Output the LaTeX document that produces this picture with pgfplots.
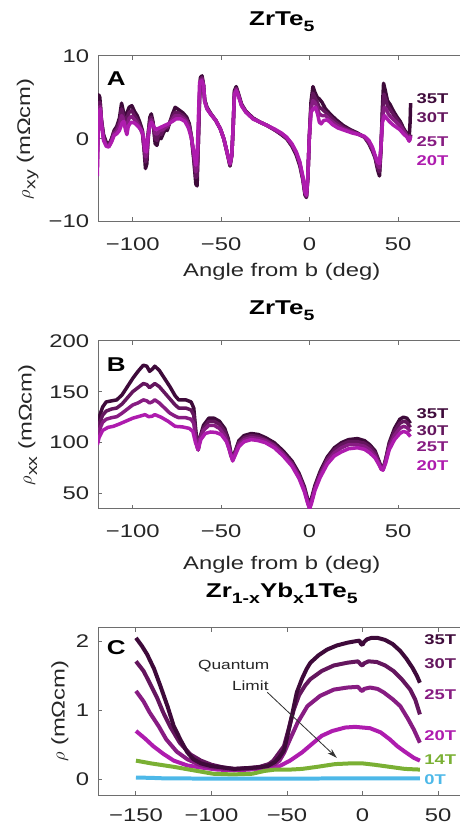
\documentclass[border=0pt]{standalone}
\usepackage{fontspec}
\setmainfont{Liberation Sans}[FakeStretch=1.3]
\usepackage{pgfplots}
\pgfplotsset{compat=1.18}
\usetikzlibrary{arrows.meta}

\definecolor{axgray}{RGB}{110,110,110}
\definecolor{txtgray}{RGB}{38,38,38}
\definecolor{c35}{RGB}{62,10,58}
\definecolor{c30}{RGB}{100,22,94}
\definecolor{c25}{RGB}{135,28,130}
\definecolor{c20}{RGB}{174,28,174}
\definecolor{c14}{RGB}{122,176,52}
\definecolor{c0}{RGB}{77,184,232}

\newcommand{\sub}[1]{\raisebox{-0.55ex}{\fontsize{9}{9}\selectfont #1}}
\newcommand{\tl}[1]{\textrm{#1}}

\tikzset{
  lab/.style={anchor=west, font=\bfseries\fontsize{8.5}{9}\selectfont, text=#1, inner sep=0pt},
  letter/.style={anchor=west, font=\bfseries\fontsize{12}{12}\selectfont, inner sep=0pt},
}
\pgfplotsset{
  panel/.style={
    scale only axis, width=217pt,
    axis x line*=box, axis y line*=left,
    axis line style={draw=axgray, line width=0.6pt, -},
    tick style={draw=axgray, line width=0.6pt},
    major tick length=2.5pt,
    tick align=inside,
    /pgf/number format/assume math mode=true,
    ticklabel style={font=\fontsize{11}{13}\selectfont, text=txtgray},
    xticklabel style={yshift=-6pt},
    yticklabel style={xshift=-2pt},
    label style={font=\fontsize{11}{13}\selectfont, text=txtgray},
    title style={font=\bfseries\fontsize{12}{14}\selectfont, text=black,
                 anchor=base, at={(axis description cs:0.508,1)}},
    xlabel style={anchor=base, at={(axis description cs:0.508,0)}},
    clip mode=individual,
  },
  s/.style={line width=2.1pt, color=#1, line join=round, mark=none},
}

\begin{document}
\begin{tikzpicture}
\path (0pt,0pt) rectangle (276pt,-496.2pt);

% ---------------- A ----------------
\begin{axis}[panel, at={(58.98pt,-33.6pt)}, anchor=north west, height=99.42pt,
  xmin=-119.5, xmax=84.8, ymin=-10, ymax=10,
  xtick={-100,-50,0,50}, xticklabels={\tl{−100},\tl{−50},\tl{0},\tl{50}},
  ytick={-10,0,10}, yticklabels={\tl{−10},\tl{0},\tl{10}},
  title={ZrTe\sub{5}},
  title style={yshift=12pt},
  xlabel={Angle from b (deg)},
  xlabel style={yshift=-33pt},
  ylabel={$\rho$\sub{xy} (mΩcm)},
  ylabel style={at={(axis description cs:-0.195,0.5)}, anchor=center},
]
\addplot[s=c35] coordinates {
(-120,-1.0) (-119.7,2.5) (-119.2,5.3) (-118.6,5.0) (-117.8,2.5) (-116.5,0.5) (-115,-0.4) (-113.5,-0.7) (-112,0.0) (-110.5,1.0) (-109,1.5) (-107.5,2.5) (-106.3,4.3) (-105.5,3.5) (-104.6,2.6) (-103.5,3.0) (-102,3.8) (-100.5,4.0) (-99,3.3) (-97.5,2.8) (-96,2.0) (-94.5,1.0) (-93.5,-1.5) (-92.8,-3.6) (-92,-3.0) (-91.3,0.5) (-90.3,2.6) (-89.5,3.0) (-88.5,2.0) (-87.3,-0.6) (-86.3,-0.8) (-85,0.5) (-84,0.0) (-82.8,0.6) (-81.5,1.2) (-80.5,1.0) (-79,2.0) (-77.5,3.0) (-76,3.8) (-74,3.5) (-71.5,3.1) (-69.5,2.6) (-68,1.8) (-66.8,0.2) (-65.5,-2.5) (-64.3,-5.5) (-63.6,-5.7) (-63,-1.0) (-62.3,5.0) (-61.7,7.4) (-60.8,7.6) (-60,6.5) (-59.3,4.7) (-58,3.8) (-56,3.1) (-53,2.2) (-50.5,1.2) (-48.5,0.0) (-46.5,-1.8) (-45,-3.3) (-44,-2.0) (-43.2,1.5) (-42.5,5.8) (-41.5,6.3) (-40.3,5.5) (-38.5,4.2) (-36,3.3) (-32,2.5) (-28,2.0) (-24,1.6) (-20,1.1) (-16,0.5) (-13,0.0) (-10,-0.9) (-7.5,-2.0) (-5.5,-3.3) (-3.8,-5.0) (-2.6,-6.8) (-1.8,-7.1) (-1,-4.8) (-0.2,0.0) (0.8,4.5) (1.9,6.3) (3,5.6) (4.3,5.0) (5.5,4.8) (7,4.4) (9,3.6) (12,2.9) (15,2.3) (19,1.6) (23,1.1) (27,0.7) (31,0.2) (33.5,-0.6) (35.5,-1.5) (37,-2.3) (38.5,-3.8) (39.5,-4.5) (40.3,-1.5) (41.2,4.0) (41.8,6.7) (42.8,5.8) (44,4.6) (45.6,4.1) (47.5,3.3) (49.5,2.6) (51.2,2.1) (53,1.3) (55,0.6) (56.3,0.2) (56.8,2.0) (57.1,4.3)
};
\addplot[s=c30] coordinates {
(-120,-2.5) (-119.6,2.0) (-119,4.4) (-118.4,4.4) (-117.6,2.0) (-116.5,0.3) (-115,-0.6) (-113.5,-0.8) (-112,-0.1) (-110.5,0.8) (-109,1.2) (-107.5,2.0) (-106.3,3.6) (-105.5,3.0) (-104.5,2.0) (-103.5,2.4) (-102,3.2) (-100.5,3.4) (-99,2.8) (-97.5,2.3) (-96,1.6) (-94.5,0.8) (-93.5,-1.2) (-92.8,-2.8) (-92,-2.3) (-91.3,0.5) (-90.3,2.3) (-89.5,2.6) (-88.5,1.8) (-87.3,0.0) (-86.3,-0.2) (-85,0.8) (-84,0.5) (-82.8,1.0) (-81.5,1.4) (-80.5,1.3) (-79,2.0) (-77.5,2.7) (-76,3.2) (-74,3.1) (-71.5,2.8) (-69.5,2.3) (-68,1.6) (-66.8,0.2) (-65.5,-2.2) (-64.3,-4.7) (-63.6,-4.5) (-63,-1.0) (-62.3,4.5) (-61.7,7.2) (-60.8,7.4) (-60,6.5) (-59.3,4.6) (-58,3.7) (-56,3.0) (-53,2.2) (-50.5,1.2) (-48.5,0.0) (-46.5,-1.8) (-45,-3.2) (-44,-2.0) (-43.2,1.5) (-42.5,5.6) (-41.5,6.1) (-40.3,5.4) (-38.5,4.1) (-36,3.3) (-32,2.5) (-28,2.0) (-24,1.6) (-20,1.1) (-16,0.6) (-13,0.1) (-10,-0.8) (-7.5,-1.8) (-5.5,-3.1) (-3.8,-4.8) (-2.6,-6.6) (-1.8,-7.0) (-1,-4.7) (-0.2,0.0) (0.8,4.0) (1.9,5.5) (3,5.0) (4.3,4.4) (5.5,3.8) (7,3.6) (9,3.2) (12,2.6) (15,2.0) (19,1.4) (23,1.0) (27,0.6) (31,0.2) (33.5,-0.5) (35.5,-1.3) (37,-2.2) (38.5,-3.5) (39.5,-4.0) (40.3,-1.3) (41.2,3.2) (42,5.4) (43,4.8) (44,4.0) (45.6,3.5) (47.5,2.9) (49.5,2.3) (51.2,1.8) (53,1.1) (55,0.4) (56.5,-0.2) (57.2,0.5)
};
\addplot[s=c25] coordinates {
(-120,-3.5) (-119.6,1.2) (-119,3.7) (-118.4,3.9) (-117.6,1.8) (-116.5,0.0) (-115,-0.8) (-113.5,-0.9) (-112,-0.3) (-110.5,0.6) (-109,0.9) (-107.5,1.5) (-106.3,2.8) (-105.5,2.5) (-104.3,1.4) (-103.5,1.5) (-102,2.5) (-100.5,2.7) (-99,2.3) (-97.5,1.9) (-96,1.3) (-94.5,0.6) (-93.5,-1.2) (-92.6,-2.2) (-91.8,-1.2) (-91,0.5) (-90.3,1.8) (-89.5,2.3) (-88.5,1.7) (-87.3,0.6) (-86,0.6) (-85,1.0) (-83,1.1) (-81.5,1.4) (-80,1.6) (-78,2.2) (-76,2.8) (-74,2.8) (-71.5,2.5) (-69.5,2.1) (-68,1.4) (-66.8,0.2) (-65.5,-1.8) (-64.3,-4.0) (-63.6,-3.5) (-63,-1.0) (-62.3,4.0) (-61.7,7.0) (-60.8,7.2) (-60,6.5) (-59.3,4.5) (-58,3.6) (-56,3.0) (-53,2.2) (-50.5,1.2) (-48.5,0.0) (-46.5,-1.8) (-45,-3.1) (-44,-2.0) (-43.2,1.5) (-42.5,5.4) (-41.5,6.0) (-40.3,5.3) (-38.5,4.0) (-36,3.2) (-32,2.4) (-28,2.0) (-24,1.6) (-20,1.1) (-16,0.6) (-13,0.1) (-10,-0.7) (-7.5,-1.7) (-5.5,-3.0) (-3.8,-4.7) (-2.6,-6.5) (-1.8,-6.9) (-1,-4.6) (-0.2,0.0) (0.8,3.6) (1.9,4.6) (3,4.4) (4.3,3.8) (5.5,3.0) (7,2.8) (9,2.8) (12,2.2) (15,1.7) (19,1.2) (23,0.9) (27,0.6) (31,0.2) (33.5,-0.4) (35.5,-1.2) (37,-2.1) (38.5,-3.2) (39.5,-3.5) (40.3,-1.2) (41.2,2.6) (42.2,3.8) (43.3,3.6) (44.5,3.0) (46,2.6) (48,2.2) (50,1.8) (52,1.3) (54,0.7) (55.8,0.1) (57.2,0.4)
};
\addplot[s=c20] coordinates {
(-120,-4.5) (-119.6,0.5) (-119,3.0) (-118.3,3.6) (-117.5,1.5) (-116.5,-0.2) (-115,-0.9) (-113.5,-1.0) (-112,-0.4) (-110.5,0.4) (-109,0.6) (-107.5,1.0) (-106,1.9) (-105,2.1) (-104,1.0) (-103.3,0.5) (-102.5,1.5) (-101,2.0) (-99,1.9) (-97,1.5) (-95,1.0) (-93.8,0.2) (-93,-1.4) (-92.3,-1.6) (-91.5,0.0) (-90.5,1.4) (-89.5,2.0) (-88.5,1.6) (-87,1.1) (-85,1.3) (-83,1.5) (-80,1.8) (-77.5,2.1) (-75.5,2.4) (-73,2.4) (-70.5,2.1) (-68.5,1.3) (-67,0.2) (-65.5,-1.5) (-64.3,-3.2) (-63.5,-1.5) (-62.8,3.0) (-62.2,6.8) (-61,7.0) (-60,6.5) (-59.3,4.5) (-58,3.6) (-56,3.0) (-53,2.2) (-50.5,1.2) (-48.5,0.0) (-46.5,-1.8) (-45,-3.0) (-44,-2.0) (-43.2,1.5) (-42.5,5.3) (-41.5,5.8) (-40.3,5.2) (-38.5,4.0) (-36,3.2) (-32,2.4) (-28,2.0) (-24,1.6) (-20,1.2) (-16,0.7) (-13,0.2) (-10,-0.6) (-7.5,-1.6) (-5.5,-2.8) (-3.8,-4.6) (-2.6,-6.4) (-1.8,-6.8) (-1,-4.5) (-0.2,0.0) (0.8,3.2) (2,3.6) (3.3,3.8) (4.5,3.0) (5.5,2.0) (6.5,1.8) (8,2.2) (10,2.3) (13,1.7) (16,1.3) (20,1.0) (24,0.7) (28,0.5) (31,0.3) (33.5,-0.2) (35.5,-1.0) (37,-2.0) (38.5,-2.8) (39.5,-3.0) (40.3,-1.0) (41.2,2.0) (42.3,2.8) (43.5,2.5) (45,2.1) (47,1.7) (49,1.4) (51,1.1) (53,0.6) (55,0.2) (56.3,-0.3) (57.2,0.3)
};
\node[letter] at (axis description cs:0.023,0.865) {A};
\node[lab=c35] at (axis cs:60.3,4.9) {35T};
\node[lab=c30] at (axis cs:60.3,2.5) {30T};
\node[lab=c25] at (axis cs:60.3,-0.3) {25T};
\node[lab=c20] at (axis cs:60.3,-2.7) {20T};
\end{axis}

% ---------------- B ----------------
\begin{axis}[panel, at={(58.98pt,-204.6pt)}, anchor=north west, height=100.98pt,
  xmin=-119.5, xmax=84.8, ymin=35, ymax=200,
  xtick={-100,-50,0,50}, xticklabels={\tl{−100},\tl{−50},\tl{0},\tl{50}},
  ytick={50,100,150,200}, yticklabels={\tl{50},\tl{100},\tl{150},\tl{200}},
  title={ZrTe\sub{5}},
  title style={yshift=9.6pt},
  xlabel={Angle from b (deg)},
  xlabel style={yshift=-36.6pt},
  ylabel={$\rho$\sub{xx} (mΩcm)},
  ylabel style={at={(axis description cs:-0.195,0.5)}, anchor=center},
]
\addplot[s=c35] coordinates {
(-120,117) (-119,125) (-117,135) (-115,140) (-112,141) (-109,142) (-106,147) (-103,155) (-100,163) (-97,170) (-94,176) (-92,175) (-90.5,170) (-89,172) (-87.5,175) (-85,171) (-82,163) (-79,155) (-76,146) (-74,142) (-70,142) (-67,140) (-65.5,134) (-64.5,115) (-63.5,98) (-63,93) (-62,105) (-60,117) (-57,124) (-54,124) (-51,121) (-48,114) (-46,104) (-44.5,90) (-43.5,85) (-42,92) (-40,102) (-37,107) (-33,109) (-29,108) (-25,105) (-20,100) (-15,92) (-10,82) (-6,70) (-3,57) (-1,44) (0,39) (1,45) (3,58) (6,72) (10,86) (14,95) (18,100) (22,103) (27,104) (31,102) (34,98) (37,92) (39,83) (40.5,76) (41.5,74) (43,84) (45,100) (48,114) (51,123) (53,125) (55,124) (57,119)
};
\addplot[s=c30] coordinates {
(-120,112) (-119,118) (-117,127) (-115,131) (-112,133) (-109,134) (-106,138) (-103,144) (-100,150) (-97,154) (-94,158) (-92,157) (-90.5,154) (-89,156) (-87.5,158) (-85,155) (-82,149) (-79,143) (-76,137) (-74,134) (-70,134) (-67,132) (-65.5,127) (-64.5,110) (-63.5,97) (-63,93) (-62,104) (-60,114) (-57,121) (-54,121) (-51,118) (-48,111) (-46,102) (-44.5,89) (-43.5,84) (-42,91) (-40,100) (-37,105) (-33,107) (-29,106) (-25,103) (-20,98) (-15,90) (-10,80) (-6,68) (-3,55) (-1,42) (0,37) (1,43) (3,56) (6,70) (10,84) (14,93) (18,98) (22,101) (27,101) (31,99.5) (34,96) (37,90) (39,82) (40.5,75) (41.5,74) (43,83) (45,98) (48,111) (51,119) (53,121) (55,120) (57,115)
};
\addplot[s=c25] coordinates {
(-120,106) (-119,112) (-117,120) (-115,123) (-112,124.5) (-109,125.5) (-106,129) (-103,133) (-100,137) (-97,139) (-94,142) (-92,141) (-90.5,139) (-89,140) (-87.5,142) (-85,139) (-82,134) (-79,129) (-76,126) (-74,124.5) (-70,124.5) (-67,123) (-65.5,119) (-64.5,105) (-63.5,95) (-63,93) (-62,104) (-60,112) (-57,117) (-54,117) (-51,114) (-48,107) (-46,97) (-44.5,87) (-43.5,83) (-42,90) (-40,98) (-37,103) (-33,105) (-29,104) (-25,102) (-20,97) (-15,89) (-10,79) (-6,67) (-3,54) (-1,41) (0,36) (1,42) (3,55) (6,68) (10,82) (14,90) (18,95) (22,98) (27,98) (31,96.5) (34,93) (37,87) (39,80) (40.5,74) (41.5,73.5) (43,82) (45,96) (48,107) (51,114) (53,116) (55,115) (57,111)
};
\addplot[s=c20] coordinates {
(-120,98) (-119,105) (-117,112) (-114,115) (-111,116) (-108,118) (-104,121) (-100,124) (-96,126) (-93,127.5) (-91,125.5) (-89,126) (-87.5,127.5) (-84,125) (-80,121) (-76,116) (-72,115.5) (-68,114) (-66,111) (-64.5,100) (-63,93) (-61.5,103) (-59,109) (-56,110.5) (-53,110) (-50,108) (-47,101) (-45,91) (-43.5,82) (-42,88) (-40,96) (-37,101) (-33,103) (-29,102) (-25,100) (-20,95) (-15,87) (-10,77) (-6,65) (-3,52) (-1,40) (0,35) (1,40) (3,53) (6,66) (10,79) (14,87) (18,91) (22,94) (27,95) (31,93.5) (34,90) (37,85) (39,79) (40.5,74) (41.5,73) (43,80) (45,93) (48,103) (51,109) (53,111) (55,110) (57,106)
};
\node[letter] at (axis description cs:0.023,0.857) {B};
\node[lab=c35] at (axis cs:60.3,128.4) {35T};
\node[lab=c30] at (axis cs:60.3,112) {30T};
\node[lab=c25] at (axis cs:60.3,95.8) {25T};
\node[lab=c20] at (axis cs:60.3,77.5) {20T};
\end{axis}

% ---------------- C ----------------
\begin{axis}[panel, at={(58.98pt,-376.8pt)}, anchor=north west, height=100.62pt,
  xmin=-175, xmax=64.3, ymin=-0.23, ymax=2.2,
  xtick={-150,-100,-50,0,50}, xticklabels={\tl{−150},\tl{−100},\tl{−50},\tl{0},\tl{50}},
  ytick={0,1,2}, yticklabels={\tl{0},\tl{1},\tl{2}},
  xticklabel style={yshift=1.5pt},
  title={Zr\sub{1-x}Yb\sub{x}1Te\sub{5}},
  title style={yshift=11.8pt},
  ylabel={$\rho$ (mΩcm)},
  ylabel style={at={(axis description cs:-0.106,0.5)}, anchor=center},
]
\addplot[s=c20, line width=2.4pt] coordinates {
(-150,0.70) (-144,0.59) (-138.6,0.48) (-132,0.37) (-125,0.27) (-116,0.20) (-107,0.17) (-96,0.14) (-85,0.13) (-75,0.14) (-65,0.16) (-55,0.19) (-48,0.27) (-40,0.39) (-33,0.52) (-27,0.63) (-20,0.70) (-11.5,0.75) (-5,0.76) (0,0.75) (5,0.74) (12,0.68) (18,0.58) (23,0.48) (28,0.40) (34,0.31) (38,0.27)
};
\addplot[s=c25, line width=2.4pt] coordinates {
(-150,1.28) (-145,1.13) (-141,0.97) (-135,0.77) (-130,0.58) (-123,0.40) (-116,0.29) (-108,0.21) (-100,0.17) (-92,0.15) (-85,0.14) (-76,0.15) (-65,0.18) (-58,0.22) (-55,0.27) (-52,0.38) (-48,0.58) (-43,0.82) (-36.5,1.06) (-28,1.21) (-19,1.30) (-10,1.33) (-3,1.34) (-1,1.29) (0,1.28) (1,1.31) (5,1.33) (10,1.31) (14,1.26) (20,1.16) (25,1.06) (30,0.88) (34,0.72) (38,0.53)
};
\addplot[s=c30, line width=2.4pt] coordinates {
(-150,1.71) (-145,1.57) (-141,1.40) (-136,1.18) (-132,0.97) (-127,0.75) (-121,0.53) (-114,0.36) (-107,0.27) (-100,0.21) (-92,0.17) (-85,0.15) (-76,0.16) (-68,0.18) (-62,0.22) (-59,0.27) (-56,0.36) (-52,0.48) (-49,0.72) (-45.5,1.01) (-42,1.22) (-38,1.36) (-34.6,1.45) (-27,1.57) (-19,1.65) (-10,1.69) (-3,1.71) (-1,1.66) (0,1.65) (1,1.68) (4,1.71) (9.5,1.70) (15,1.65) (20.5,1.57) (26,1.45) (31.6,1.30) (35,1.15) (38,0.94)
};
\addplot[s=c35, line width=2.4pt] coordinates {
(-150,2.05) (-146,1.93) (-142.6,1.81) (-138,1.60) (-133.8,1.35) (-129,1.05) (-125,0.77) (-120,0.55) (-116,0.39) (-112,0.29) (-107,0.23) (-100,0.19) (-92,0.17) (-85,0.15) (-78,0.16) (-70,0.17) (-63,0.19) (-58,0.25) (-55,0.32) (-52,0.42) (-50,0.60) (-48,0.80) (-46,1.00) (-43.5,1.26) (-40,1.46) (-37,1.60) (-34.5,1.69) (-29,1.80) (-23.5,1.88) (-17,1.94) (-10,1.98) (-5,2.00) (-2,2.01) (-1,1.96) (0,1.95) (1,1.99) (3,2.03) (6,2.05) (10,2.05) (15,2.02) (20,1.96) (25,1.86) (29,1.75) (33,1.62) (36,1.50) (38,1.40)
};
\addplot[s=c14, line width=2.4pt] coordinates {
(-150,0.27) (-140,0.23) (-125,0.18) (-112,0.13) (-99,0.08) (-86,0.07) (-73,0.08) (-65,0.12) (-58,0.14) (-48,0.14) (-40,0.15) (-30,0.18) (-18,0.22) (-8,0.23) (0,0.23) (8,0.21) (18,0.18) (28,0.15) (38,0.14)
};
\addplot[s=c0, line width=2.4pt] coordinates {
(-150,0.025) (-140,0.02) (-130,0.012) (-100,0.01) (-50,0.01) (0,0.012) (38,0.012)
};
\node[letter] at (axis description cs:0.023,0.879) {C};
\node[font=\fontsize{8}{9}\selectfont, text=txtgray] at (axis cs:-85.3,1.64) {Quantum};
\node[font=\fontsize{8}{9}\selectfont, text=txtgray] at (axis cs:-74.3,1.35) {Limit};
\draw[-{Stealth[length=6pt,width=3.5pt]}, line width=0.5pt, black!80]
  (axis cs:-63,1.26) -- (axis cs:-17,0.31);
\node[lab=c35] at (axis cs:40.8,2.03) {35T};
\node[lab=c30] at (axis cs:40.8,1.67) {30T};
\node[lab=c25] at (axis cs:40.8,1.23) {25T};
\node[lab=c20] at (axis cs:40.8,0.63) {20T};
\node[lab=c14] at (axis cs:40.8,0.29) {14T};
\node[lab=c0] at (axis cs:40.8,0.0) {0T};
\end{axis}
\end{tikzpicture}
\end{document}
